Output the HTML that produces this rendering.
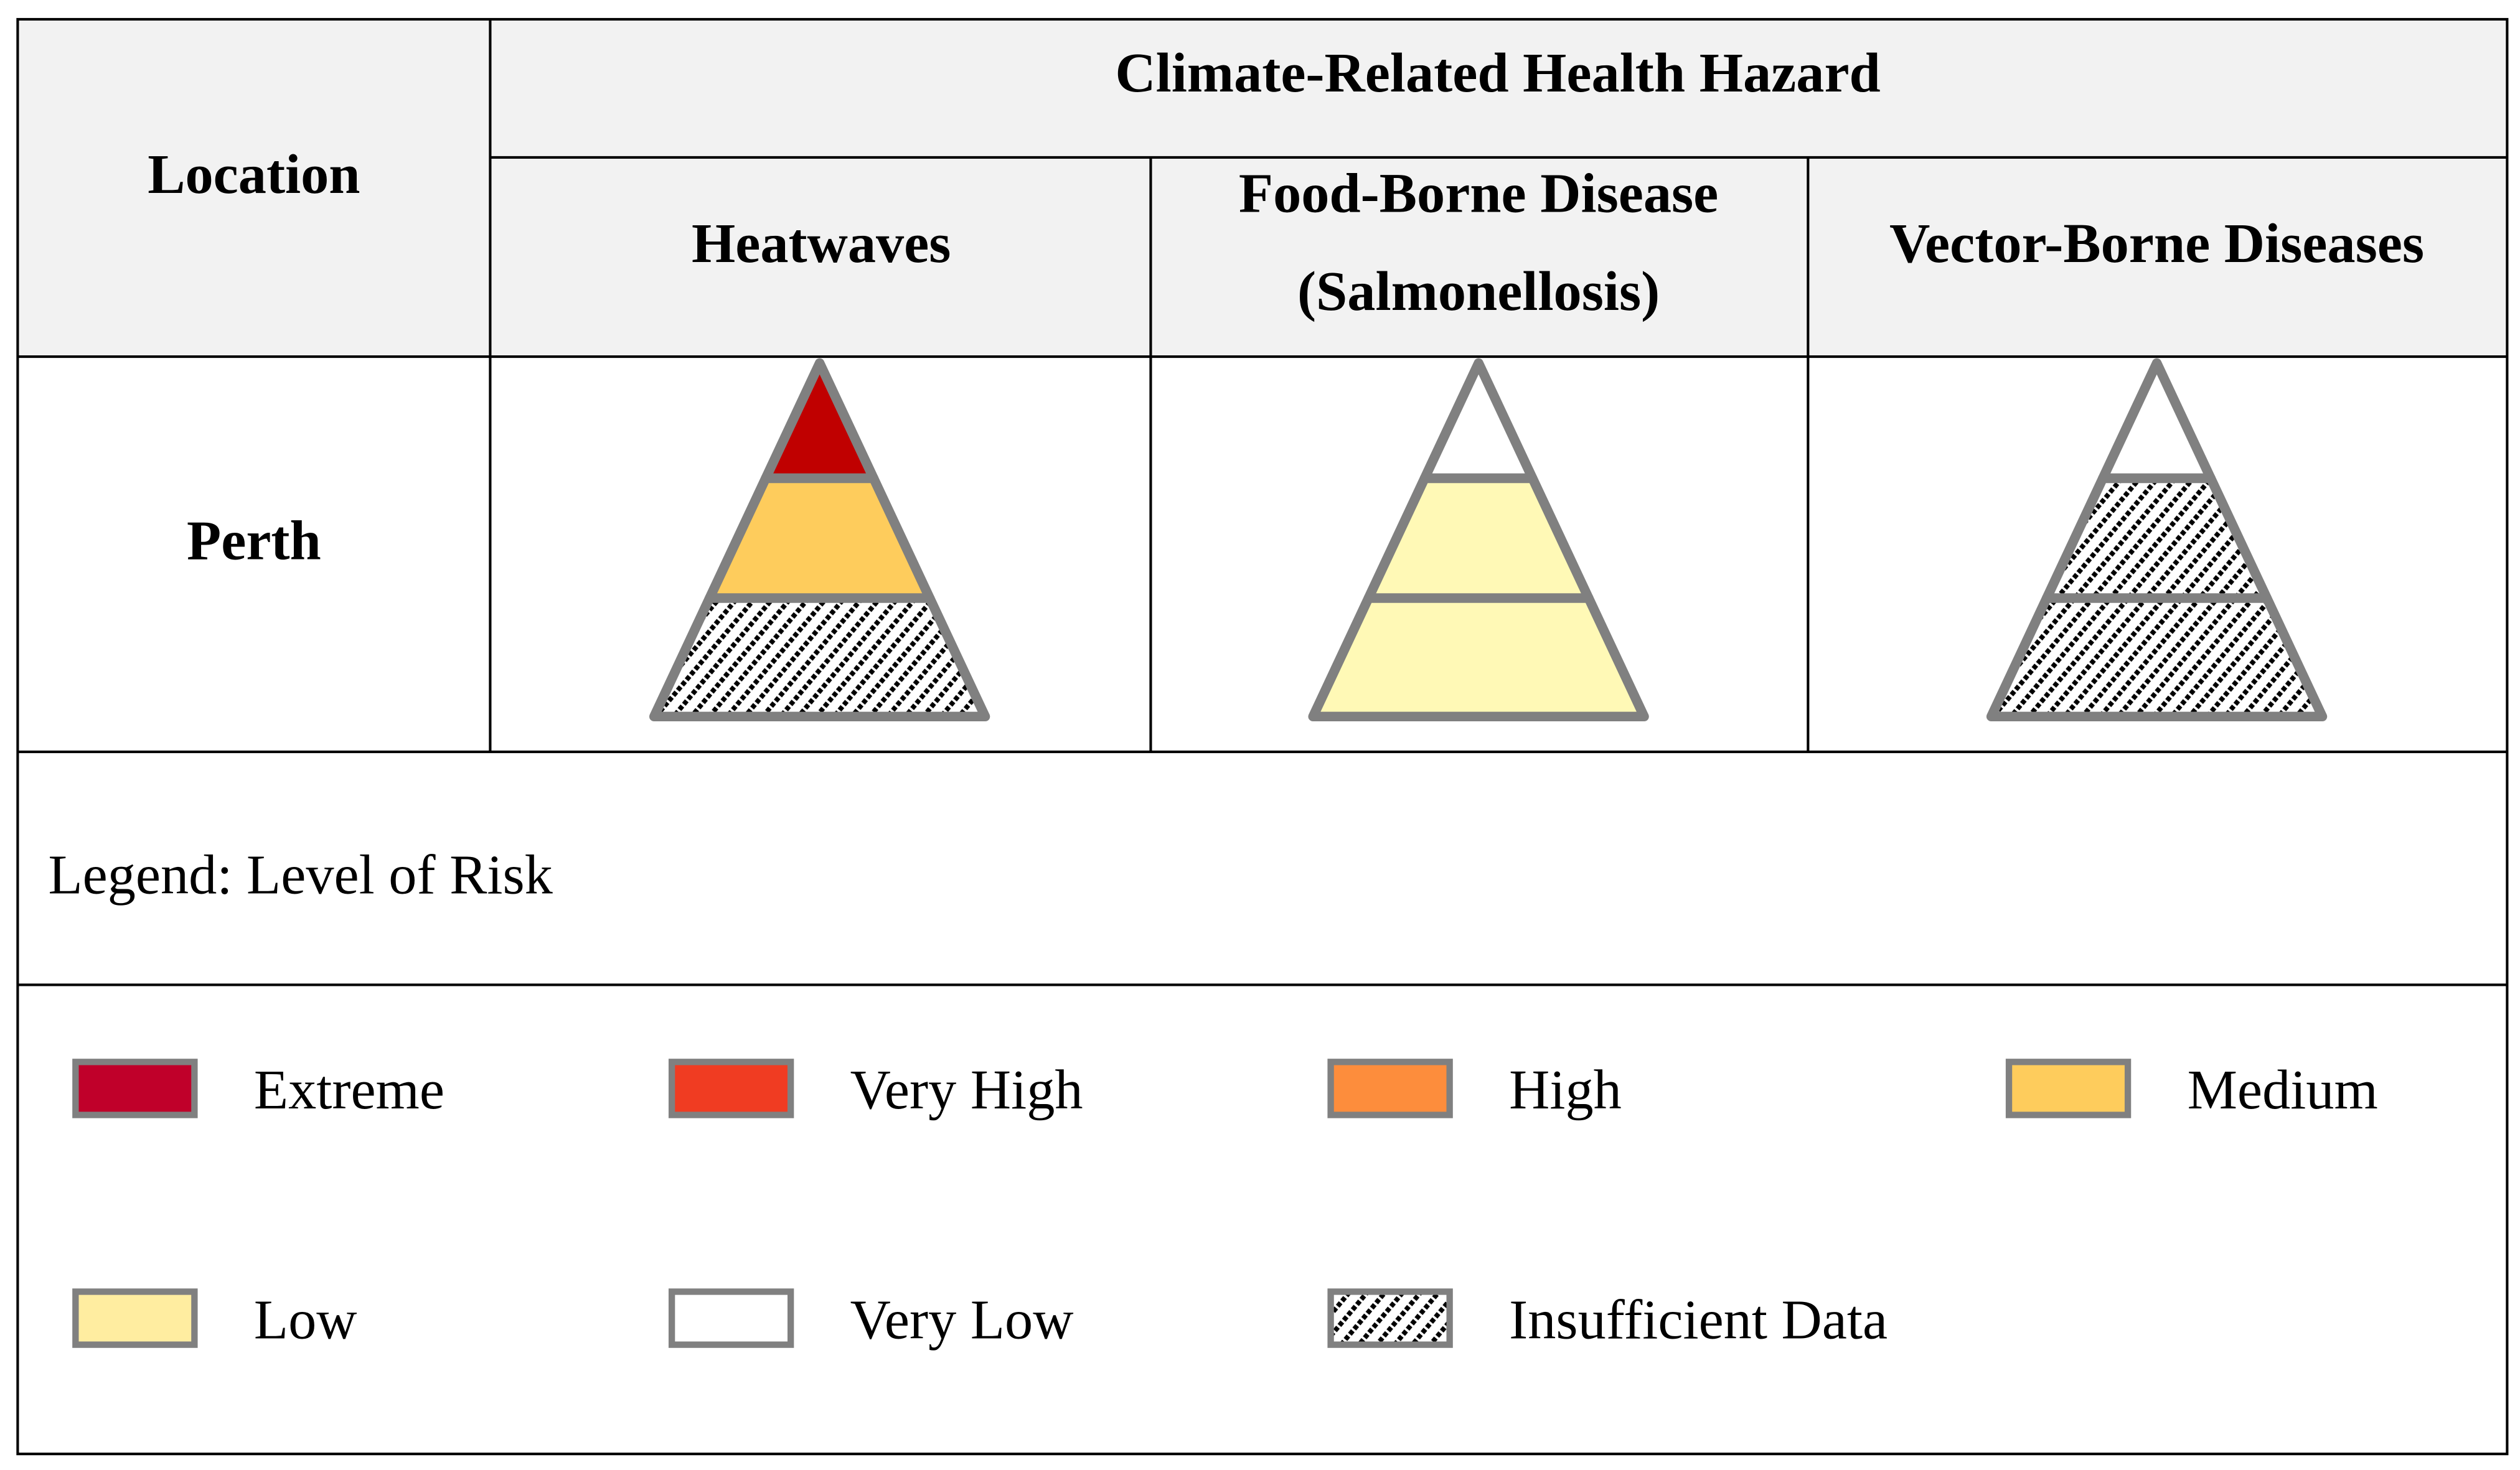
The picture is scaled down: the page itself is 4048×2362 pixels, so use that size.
<!DOCTYPE html>
<html><head><meta charset="utf-8"><style>
html,body{margin:0;padding:0;background:#fff;}
svg{display:block;}
text{font-family:"Liberation Serif",serif;}
</style></head><body>
<svg id="chart" width="4048" height="2362" viewBox="0 0 1568 915" preserveAspectRatio="none" xmlns="http://www.w3.org/2000/svg">
<defs>
<pattern id="hatch" patternUnits="userSpaceOnUse" width="8.5" height="8.5" patternTransform="rotate(40)">
<rect width="8.5" height="8.5" fill="#fff"/>
<line x1="4.25" y1="0" x2="4.25" y2="8.5" stroke="#000" stroke-width="3" stroke-dasharray="2.8 1.45"/>
</pattern>
</defs>
<rect x="11" y="12" width="1549" height="210" fill="#f2f2f2"/>
<g stroke="#000" stroke-width="1.6" fill="none">
<rect x="11" y="12" width="1549" height="893"/>
<line x1="305" y1="98" x2="1560" y2="98"/>
<line x1="11" y1="222" x2="1560" y2="222"/>
<line x1="305" y1="12" x2="305" y2="468"/>
<line x1="716" y1="98" x2="716" y2="468"/>
<line x1="1125" y1="98" x2="1125" y2="468"/>
<line x1="11" y1="468" x2="1560" y2="468"/>
<line x1="11" y1="613" x2="1560" y2="613"/>
</g>
<g font-weight="bold" font-size="35" text-anchor="middle" fill="#000">
<text x="158" y="120">Location</text>
<text x="932" y="57">Climate-Related Health Hazard</text>
<text x="511" y="163">Heatwaves</text>
<text x="920" y="132">Food-Borne Disease</text>
<text x="920" y="193">(Salmonellosis)</text>
<text x="1342" y="163">Vector-Borne Diseases</text>
<text x="158" y="348">Perth</text>
</g>
<text x="30" y="556" font-size="35">Legend: Level of Risk</text>
<g id="pyramids"></g>
<g id="legend"></g>
</svg>
<script>
const hazards = ["heatwaves", "food-borne", "vector-borne"];
const centers = [510, 920, 1342];
// levels per pyramid: [top, middle, bottom]
const levels = [
  ["Extreme2", "Medium", "Insufficient"],
  ["VeryLow", "LowPale", "LowPale"],
  ["VeryLow", "Insufficient", "Insufficient"]
];
const bands = [0, 0.326, 0.665, 1];
const legendLabels = ["Extreme", "Very High", "High", "Medium", "Low", "Very Low", "Insufficient Data"];
const legendKeys = ["Extreme", "VeryHigh", "High", "Medium", "Low", "VeryLow", "Insufficient"];
const fills = {Extreme:"#c0002a", Extreme2:"#c00000", VeryHigh:"#f03c22", High:"#fd8d3c", Medium:"#fecc5c", Low:"#ffeda0", LowPale:"#fff9b6", VeryLow:"#ffffff", Insufficient:"url(#hatch)"};
const NS = "http://www.w3.org/2000/svg";
const apexY = 226, baseY = 446, halfW = 103;
const py = document.getElementById('pyramids');
function hw(t){ return halfW * t; }
function yAt(t){ return apexY + (baseY - apexY) * t; }
hazards.forEach((h, i) => {
  const cx = centers[i];
  const g = document.createElementNS(NS, 'g');
  
  
  for (let k = 0; k < 3; k++) {
    const t0 = bands[k], t1 = bands[k + 1];
    const p = document.createElementNS(NS, 'polygon');
    const pts = [[cx - hw(t0), yAt(t0)], [cx + hw(t0), yAt(t0)], [cx + hw(t1), yAt(t1)], [cx - hw(t1), yAt(t1)]];
    p.setAttribute('points', pts.map(a => a.join(',')).join(' '));
    p.setAttribute('fill', fills[levels[i][k]]);
    p.setAttribute('stroke', '#808080');
    p.setAttribute('stroke-width', '6');
    p.setAttribute('stroke-linejoin', 'round');
    
    
    g.appendChild(p);
  }
  py.appendChild(g);
});
const lg = document.getElementById('legend');
const colX = [47, 418, 828, 1250];
const rowY = [661, 804];
legendLabels.forEach((lab, i) => {
  const c = i % 4, r = Math.floor(i / 4);
  const g = document.createElementNS(NS, 'g');
  
  
  const rc = document.createElementNS(NS, 'rect');
  rc.setAttribute('x', colX[c]); rc.setAttribute('y', rowY[r]);
  rc.setAttribute('width', 74); rc.setAttribute('height', 33);
  rc.setAttribute('fill', fills[legendKeys[i]]);
  rc.setAttribute('stroke', '#808080'); rc.setAttribute('stroke-width', '4');
  
  
  g.appendChild(rc);
  const tx = document.createElementNS(NS, 'text');
  tx.setAttribute('x', colX[c] + 111); tx.setAttribute('y', rowY[r] + 29);
  tx.setAttribute('font-size', '35');
  tx.textContent = lab;
  
  
  g.appendChild(tx);
  lg.appendChild(g);
});
</script>
</body></html>
